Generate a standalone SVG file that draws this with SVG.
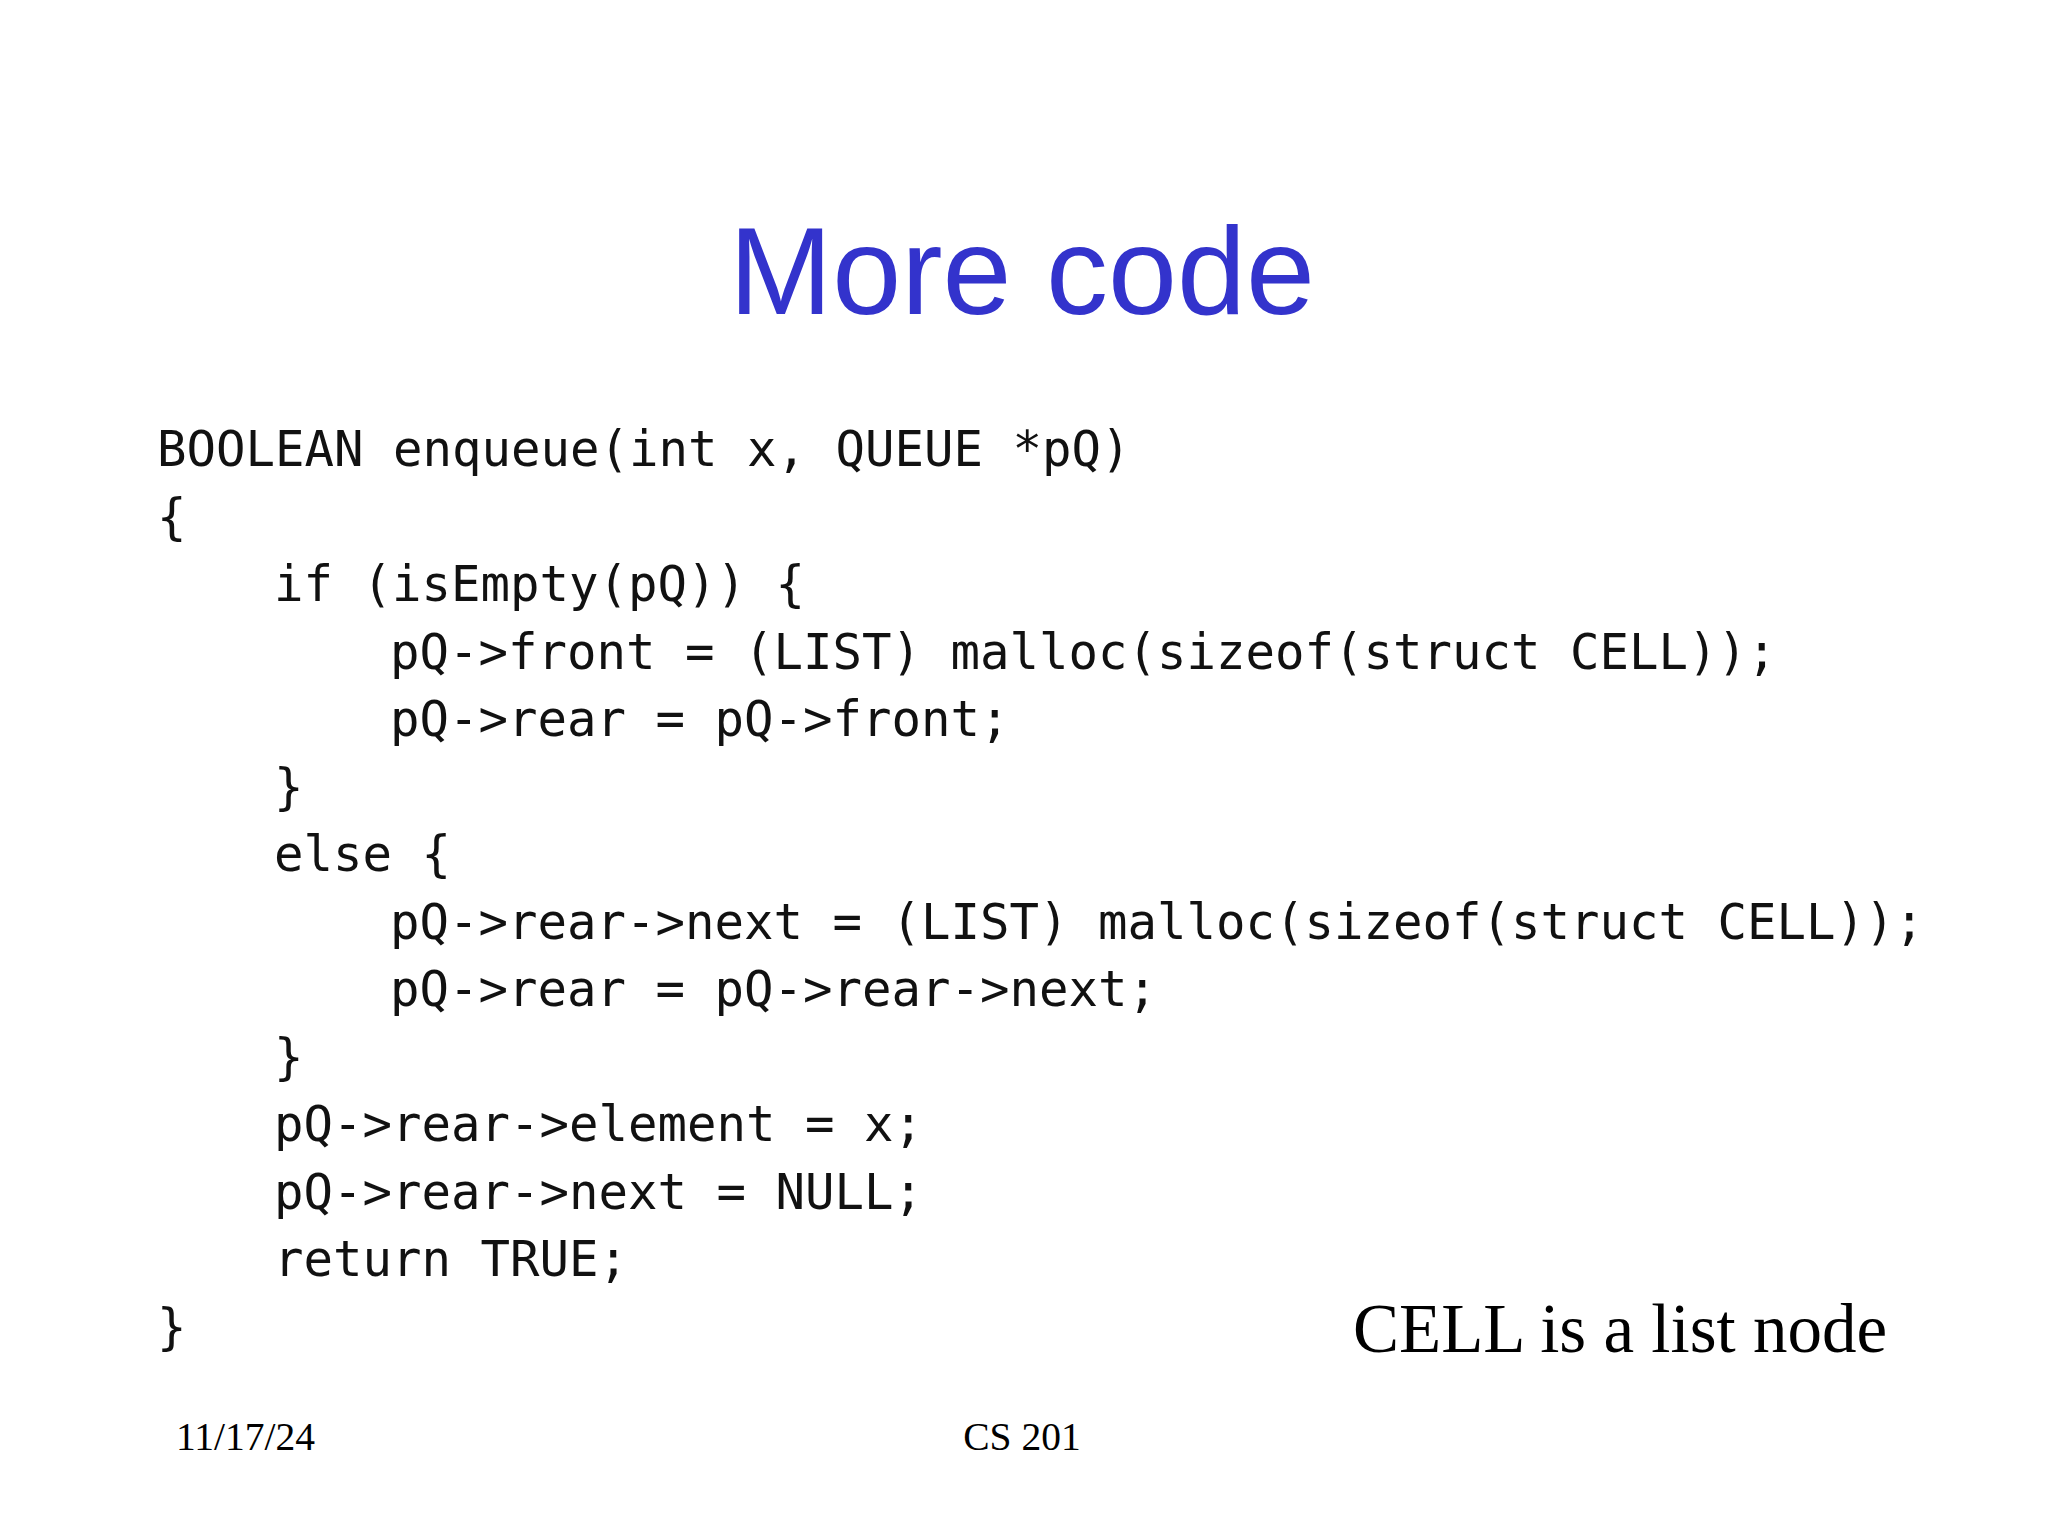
<svg xmlns="http://www.w3.org/2000/svg" width="2048" height="1536" viewBox="0 0 2048 1536">
  <style>
    .title { font-family: "Liberation Sans", Arial, sans-serif; font-size: 124px; fill: #3333CC; }
    .code { font-family: "DejaVu Sans Mono", "Liberation Mono", monospace; font-size: 49px; fill: #111111; white-space: pre; }
    .note { font-family: "Liberation Serif", "Times New Roman", serif; font-size: 69px; fill: #000000; }
    .foot { font-family: "Liberation Serif", "Times New Roman", serif; font-size: 39.5px; fill: #000000; }
  </style>
  <rect x="0" y="0" width="2048" height="1536" fill="#ffffff"/>
  <g id="title">
    <text class="title" x="1022" y="314" text-anchor="middle">More code</text>
  </g>
  <g id="code">
    <text class="code" x="157" y="466">BOOLEAN enqueue(int x, QUEUE *pQ)</text>
    <text class="code" x="157" y="533.5">{</text>
    <text class="code" x="274" y="601">if (isEmpty(pQ)) {</text>
    <text class="code" x="390" y="668.5">pQ-&gt;front = (LIST) malloc(sizeof(struct CELL));</text>
    <text class="code" x="390" y="736">pQ-&gt;rear = pQ-&gt;front;</text>
    <text class="code" x="274" y="803.5">}</text>
    <text class="code" x="274" y="871">else {</text>
    <text class="code" x="390" y="938.5">pQ-&gt;rear-&gt;next = (LIST) malloc(sizeof(struct CELL));</text>
    <text class="code" x="390" y="1006">pQ-&gt;rear = pQ-&gt;rear-&gt;next;</text>
    <text class="code" x="274" y="1073.5">}</text>
    <text class="code" x="274" y="1141">pQ-&gt;rear-&gt;element = x;</text>
    <text class="code" x="274" y="1208.5">pQ-&gt;rear-&gt;next = NULL;</text>
    <text class="code" x="274" y="1276">return TRUE;</text>
    <text class="code" x="157" y="1343.5">}</text>
  </g>
  <g id="note">
    <text class="note" x="1353" y="1352">CELL is a list node</text>
  </g>
  <g id="footer">
    <text class="foot" x="176" y="1450">11/17/24</text>
    <text class="foot" x="1022" y="1450" text-anchor="middle">CS 201</text>
  </g>
</svg>
